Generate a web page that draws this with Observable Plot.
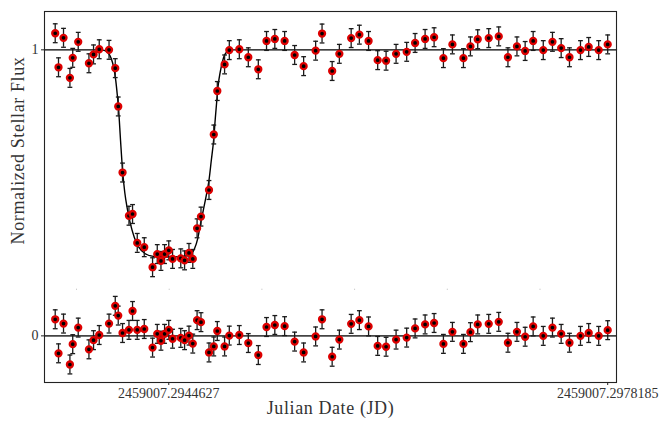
<!DOCTYPE html>
<html><head><meta charset="utf-8">
<script src="https://cdn.jsdelivr.net/npm/d3@7"></script>
<script src="https://cdn.jsdelivr.net/npm/@observablehq/plot@0.6"></script>
<style>body{margin:0;background:#fff;}</style>
</head><body><div id="chart"></div>
<script>
const jdBase = 2459007;
const timeFrac = [
  0.2935945,0.2936197,0.2936580,0.2937069,0.2937284,0.2937704,0.2938523,0.2938875,0.2939311,0.2940060,
  0.2940535,0.2940764,0.2941093,0.2941583,0.2941858,0.2942217,0.2942753,0.2943388,0.2943747,0.2944030,
  0.2944306,0.2944627,0.2944918,0.2945545,0.2945836,0.2946172,0.2946463,0.2946792,0.2947090,0.2947702,
  0.2948069,0.2948337,0.2948895,0.2949255,0.2950020,0.2950708,0.2951473,0.2952101,0.2952735,0.2953485,
  0.2954250,0.2954938,0.2955856,0.2956346,0.2957119,0.2957669,0.2958572,0.2959199,0.2959903,0.2960599,
  0.2961242,0.2962006,0.2962817,0.2963460,0.2964225,0.2964913,0.2965625,0.2966313,0.2967155,0.2967690,
  0.2968248,0.2969090,0.2969855,0.2970558,0.2971247,0.2971874,0.2972486,0.2973259,0.2973962,0.2974628,
  0.2975263,0.2976104,0.2976732,0.2977496,0.2978185
];
const flux = [
  1.058,0.939,1.042,0.902,0.972,1.028,0.953,0.984,1.002,1.000,
  0.936,0.802,0.571,0.420,0.426,0.325,0.310,0.240,0.286,0.262,
  0.286,0.299,0.269,0.271,0.264,0.290,0.269,0.376,0.417,0.510,
  0.704,0.856,0.949,0.999,1.002,0.974,0.932,1.031,1.038,1.031,
  0.982,0.943,0.997,1.057,0.926,0.986,1.041,1.053,1.031,0.964,
  0.962,0.986,0.993,1.024,1.038,1.044,0.971,1.019,0.971,1.012,
  1.037,1.041,1.047,0.974,1.012,0.996,1.031,0.999,1.028,1.006,
  0.974,0.999,1.010,0.999,1.019
];
const residual = [
  0.058,-0.061,0.043,-0.100,-0.029,0.029,-0.047,-0.015,0.003,0.043,
  0.105,0.071,0.010,0.021,0.087,0.021,0.024,-0.041,0.007,-0.017,
  0.007,0.021,-0.010,-0.007,-0.015,0.001,-0.027,0.055,0.048,-0.058,
  -0.037,0.017,-0.037,0.001,0.003,-0.025,-0.067,0.031,0.038,0.034,
  -0.020,-0.058,-0.002,0.058,-0.073,-0.013,0.042,0.055,0.033,-0.035,
  -0.038,-0.013,-0.006,0.026,0.040,0.045,-0.028,0.014,-0.028,0.013,
  0.040,0.042,0.049,-0.024,0.014,-0.003,0.033,0.000,0.029,0.007,
  -0.024,0.000,0.010,0.000,0.020
];
const fluxErr = 0.033;
const modelTimeFrac = [
  0.2935126,0.2939387,0.2939693,0.2939999,0.2940229,0.2940420,0.2940573,0.2940688,0.2940787,0.2940940,
  0.2941093,0.2941261,0.2941452,0.2941682,0.2941988,0.2942332,0.2942829,0.2943441,0.2944436,0.2945507,
  0.2946042,0.2946348,0.2946578,0.2946845,0.2947075,0.2947266,0.2947496,0.2947702,0.2947878,0.2948054,
  0.2948184,0.2948299,0.2948413,0.2948566,0.2948819,0.2949079,0.2949331,0.2978858
];
const modelFlux = [
  1.000,1.000,0.998,0.989,0.970,0.938,0.893,0.844,0.795,0.683,
  0.579,0.502,0.446,0.394,0.345,0.310,0.287,0.278,0.276,0.277,
  0.280,0.287,0.303,0.341,0.397,0.439,0.491,0.544,0.613,0.683,
  0.760,0.823,0.879,0.924,0.973,0.994,1.000,1.000
];
const xTickValues = [jdBase + 0.2944627, jdBase + 0.2978185];
const xTickLabels = ["2459007.2944627", "2459007.2978185"];
const yTickValues = [1, 0];
const yTickLabels = ["1", "0"];
const xDomain = [jdBase + 0.2935126, jdBase + 0.2978858];
const yDomain = [-0.163, 1.134];
const panelSplit = 0.163;
const xLabel = "Julian Date (JD)";
const yLabel = "Normalized Stellar Flux";

const obs = timeFrac.map((f, i) => ({t: jdBase + f, f: flux[i], r: residual[i]}));
const model = modelTimeFrac.map((f, i) => ({t: jdBase + f, m: modelFlux[i]}));
const caps = obs.flatMap(d => [
  {t: d.t, y: d.f - fluxErr}, {t: d.t, y: d.f + fluxErr},
  {t: d.t, y: d.r - fluxErr}, {t: d.t, y: d.r + fluxErr}
]);
const capSymbol = {draw(context, size) {
  const r = Math.sqrt(size / Math.PI);
  context.moveTo(-r, 0); context.lineTo(r, 0);
}};
const font = "'Liberation Serif', 'Times New Roman', serif";
const errStroke = "#1a1a1a";

const chart = Plot.plot({
  width: 660, height: 424,
  marginLeft: 44, marginRight: 44, marginTop: 11, marginBottom: 42,
  style: {fontFamily: font, fontSize: "14px", color: "#333", background: "#fff"},
  x: {type: "linear", domain: xDomain},
  y: {domain: yDomain},
  marks: [
    Plot.ruleY([panelSplit], {stroke: "#bbb", strokeDasharray: "1 91.7", strokeDashoffset: 60.7}),
    Plot.ruleY([0], {stroke: "#444", strokeWidth: 1.8}),
    Plot.line(model, {x: "t", y: "m", stroke: "#000", strokeWidth: 1.4, curve: "monotone-x"}),
    Plot.ruleX(obs, {x: "t", y1: d => d.f - fluxErr, y2: d => d.f + fluxErr, stroke: errStroke, strokeWidth: 1.3}),
    Plot.ruleX(obs, {x: "t", y1: d => d.r - fluxErr, y2: d => d.r + fluxErr, stroke: errStroke, strokeWidth: 1.3}),
    Plot.dot(caps, {x: "t", y: "y", symbol: capSymbol, r: 2.4, fill: "none", stroke: errStroke, strokeWidth: 1.3}),
    Plot.dot(obs, {x: "t", y: "f", r: 3, fill: "#000", stroke: "#dd0000", strokeWidth: 2.3}),
    Plot.dot(obs, {x: "t", y: "r", r: 3, fill: "#000", stroke: "#dd0000", strokeWidth: 2.3}),
    Plot.frame({stroke: "#222", strokeWidth: 1.1}),
    Plot.axisX(xTickValues, {tickFormat: d => xTickLabels[xTickValues.indexOf(d)], tickSize: 3, tickPadding: 3, label: null, fontSize: 14, stroke: "#222"}),
    Plot.axisY(yTickValues, {tickFormat: d => yTickLabels[yTickValues.indexOf(d)], tickSize: 3, tickPadding: 3, label: null, fontSize: 14, stroke: "#222"}),
    Plot.text([xLabel], {frameAnchor: "bottom", dy: 31, fontSize: 18, fill: "#333"}),
    Plot.text([yLabel], {frameAnchor: "left", textAnchor: "middle", dx: -26, dy: -46.5, rotate: -90, fontSize: 18, fill: "#333"})
  ]
});
d3.select(chart).selectAll("text").filter(function() {
  const s = this.textContent; return s === xLabel || s === yLabel;
}).attr("letter-spacing", "0.6px");
document.getElementById("chart").appendChild(chart);
</script>
</body></html>
